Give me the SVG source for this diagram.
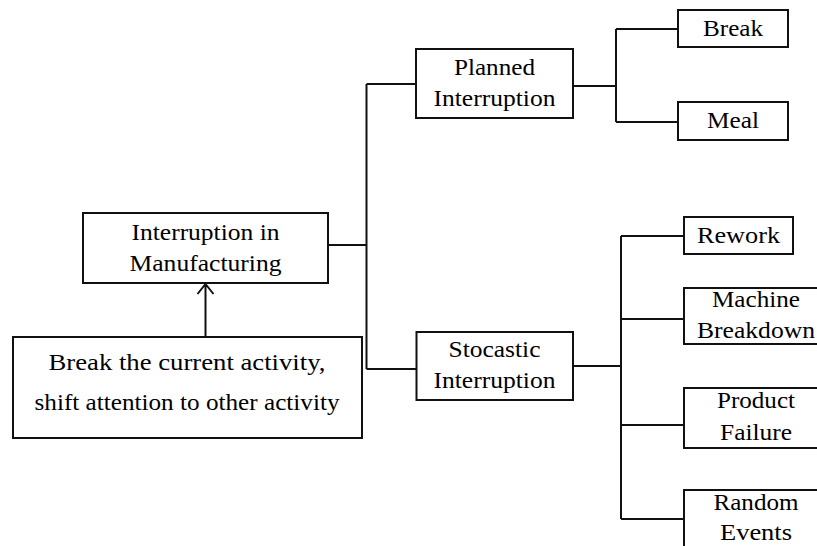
<svg xmlns="http://www.w3.org/2000/svg" width="817" height="546" viewBox="0 0 817 546">
<style>
.box{fill:#fff;stroke:#111;stroke-width:2}
.ln{fill:none;stroke:#111;stroke-width:2}
text{font-family:"Liberation Serif","Times New Roman",serif;font-size:23px;fill:#000;text-anchor:middle}
</style>
<rect width="817" height="546" fill="#fff"/>
<g id="connectors" class="ln">
<path d="M328 245H366.5M366.5 84V369M366.5 84H416M366.5 369H416"/>
<path d="M573 86H616M616 29V122M616 29H678M616 122H678"/>
<path d="M573 366H621M621 236V519M621 236H684M621 319H684M621 425H684M621 519H684"/>
<path d="M205.5 337V284M197.5 294L205.5 284L213.5 294"/>
</g>
<g id="n-interruption"><rect class="box" x="83" y="213" width="245" height="70"/>
<text x="205.5" y="240" textLength="148" lengthAdjust="spacingAndGlyphs">Interruption in</text>
<text x="205.5" y="270.5" textLength="152" lengthAdjust="spacingAndGlyphs">Manufacturing</text></g>
<g id="n-break-activity"><rect class="box" x="13" y="337" width="349" height="101"/>
<text x="187" y="370" textLength="277" lengthAdjust="spacingAndGlyphs">Break the current activity,</text>
<text x="187" y="410" textLength="305" lengthAdjust="spacingAndGlyphs">shift attention to other activity</text></g>
<g id="n-planned"><rect class="box" x="416" y="49" width="157" height="69"/>
<text x="494.5" y="75" textLength="81" lengthAdjust="spacingAndGlyphs">Planned</text>
<text x="494.5" y="106" textLength="122" lengthAdjust="spacingAndGlyphs">Interruption</text></g>
<g id="n-stocastic"><rect class="box" x="416.5" y="332" width="156.5" height="68"/>
<text x="494.5" y="357" textLength="92" lengthAdjust="spacingAndGlyphs">Stocastic</text>
<text x="494.5" y="388" textLength="122" lengthAdjust="spacingAndGlyphs">Interruption</text></g>
<g id="n-break"><rect class="box" x="678" y="10" width="110" height="37"/>
<text x="733" y="36" textLength="60" lengthAdjust="spacingAndGlyphs">Break</text></g>
<g id="n-meal"><rect class="box" x="678" y="102" width="110" height="38"/>
<text x="733" y="128" textLength="52" lengthAdjust="spacingAndGlyphs">Meal</text></g>
<g id="n-rework"><rect class="box" x="684" y="217" width="109" height="37"/>
<text x="738.5" y="243" textLength="83" lengthAdjust="spacingAndGlyphs">Rework</text></g>
<g id="n-machine"><rect class="box" x="684" y="288" width="150" height="56"/>
<text x="756" y="307" textLength="88" lengthAdjust="spacingAndGlyphs">Machine</text>
<text x="756" y="337.5" textLength="118" lengthAdjust="spacingAndGlyphs">Breakdown</text></g>
<g id="n-product"><rect class="box" x="684" y="388" width="150" height="60"/>
<text x="756" y="408" textLength="78" lengthAdjust="spacingAndGlyphs">Product</text>
<text x="756" y="440" textLength="72" lengthAdjust="spacingAndGlyphs">Failure</text></g>
<g id="n-random"><rect class="box" x="684" y="490" width="150" height="70"/>
<text x="756" y="510" textLength="85" lengthAdjust="spacingAndGlyphs">Random</text>
<text x="756" y="540" textLength="72" lengthAdjust="spacingAndGlyphs">Events</text></g>
</svg>
